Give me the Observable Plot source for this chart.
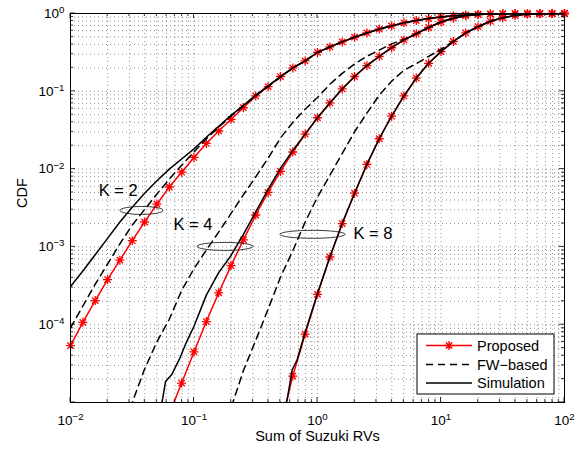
<!DOCTYPE html>
<html><head><meta charset="utf-8">
<script src="https://cdn.jsdelivr.net/npm/d3@7"></script>
<script src="https://cdn.jsdelivr.net/npm/@observablehq/plot@0.6"></script>
<style>body{margin:0;background:#fff}#chart{width:587px;height:449px}</style>
</head><body><div id="chart"></div>
<script>
// ---- axis ticks ----
const xTicks = [0.01, 0.1, 1, 10, 100];
const xTickLabels = ["10|−2", "10|−1", "10|0", "10|1", "10|2"];
const yTicks = [1e-4, 1e-3, 1e-2, 1e-1, 1];
const yTickLabels = ["10|−4", "10|−3", "10|−2", "10|−1", "10|0"];
const xTitle = "Sum of Suzuki RVs";
const yTitle = "CDF";
const legendLabels = ["Proposed", "FW−based", "Simulation"];

// ---- data: log10(x) and log10(CDF) ----
const gridLx = [-2,-1.9,-1.8,-1.7,-1.6,-1.5,-1.4,-1.3,-1.2,-1.1,-1,-0.9,-0.8,-0.7,-0.6,-0.5,-0.4,-0.3,-0.2,-0.1,0,0.1,0.2,0.3,0.4,0.5,0.6,0.7,0.8,0.9,1,1.1,1.2,1.3,1.4,1.5,1.6,1.7,1.8,1.9,2];

const k2Proposed = [-4.27,-3.97,-3.69,-3.42,-3.17,-2.92,-2.68,-2.45,-2.23,-2.04,
  -1.85,-1.67,-1.51,-1.36,-1.21,-1.06,-0.94,-0.81,-0.70,-0.61,
  -0.50,-0.43,-0.365,-0.305,-0.25,-0.20,-0.16,-0.12,-0.09,-0.065,
  -0.045,-0.03,-0.019,-0.012,-0.007,-0.004,-0.002,-0.001,-0.0005,0,0];
const k4Proposed = [null,null,null,null,null,null,null,null,
  -5.15,-4.75,-4.35,-3.96,-3.59,-3.24,-2.91,-2.59,-2.30,-2.03,-1.78,-1.55,
  -1.34,-1.15,-0.97,-0.81,-0.67,-0.55,-0.44,-0.34,-0.26,-0.18,
  -0.11,-0.06,-0.028,-0.012,-0.005,-0.002,-0.0008,0,0,0,0];
const k8Proposed = [null,null,null,null,null,null,null,null,null,null,null,null,null,null,null,null,null,
  -5.3,-4.66,-4.12,
  -3.61,-3.13,-2.70,-2.31,-1.94,-1.61,-1.32,-1.06,-0.83,-0.64,
  -0.49,-0.36,-0.25,-0.17,-0.10,-0.055,-0.026,-0.011,-0.004,-0.001,0];

// Simulation / FW-based: points where they leave the Proposed curve (afterwards they coincide)
const k2SimLx = [-2,-1.9,-1.8,-1.7,-1.6,-1.5,-1.4,-1.3,-1.2,-1.1,-1,-0.9,-0.8,-0.7,-0.6,-0.5,-0.4,-0.3];
const k2SimLy = [-3.51,-3.31,-3.10,-2.89,-2.68,-2.49,-2.31,-2.15,-2.00,-1.87,-1.74,-1.59,-1.45,-1.31,-1.18,-1.05,-0.93,-0.81];
const k2FwLx = [-2,-1.9,-1.8,-1.7,-1.6,-1.5,-1.4,-1.3,-1.2,-1.1,-1,-0.9,-0.8,-0.7,-0.6,-0.5,-0.4,-0.3];
const k2FwLy = [-4.04,-3.76,-3.48,-3.22,-2.96,-2.72,-2.52,-2.32,-2.13,-1.95,-1.78,-1.61,-1.46,-1.32,-1.19,-1.06,-0.94,-0.82];
const k4SimLx = [-1.27,-1.23,-1.18,-1.12,-1.06,-1,-0.9,-0.8,-0.7,-0.6,-0.5,-0.4,-0.3,-0.2,-0.1];
const k4SimLy = [-5.1,-4.73,-4.64,-4.45,-4.22,-4.02,-3.62,-3.33,-3.11,-2.84,-2.55,-2.26,-1.99,-1.76,-1.55];
const k4FwLx = [-1.55,-1.5,-1.4,-1.3,-1.2,-1.1,-1,-0.9,-0.8,-0.7,-0.6,-0.5,-0.4,-0.3,-0.2,-0.1,0,0.1,0.2,0.3,0.4,0.5,0.6,0.7];
const k4FwLy = [-5.22,-5.0,-4.57,-4.22,-3.93,-3.56,-3.28,-3.04,-2.81,-2.57,-2.33,-2.10,-1.86,-1.60,-1.40,-1.23,-1.08,-0.91,-0.77,-0.65,-0.55,-0.47,-0.39,-0.335];
const k8SimLx = [-0.27,-0.245,-0.205,-0.165,-0.1,0];
const k8SimLy = [-5.1,-4.96,-4.58,-4.45,-4.1,-3.6];
const k8FwLx = [-0.72,-0.7,-0.6,-0.5,-0.4,-0.3,-0.2,-0.1,0,0.1,0.2,0.3,0.4,0.5,0.6,0.7,0.8,0.9,1,1.1];
const k8FwLy = [-5.2,-5.07,-4.59,-4.20,-3.80,-3.39,-3.05,-2.68,-2.36,-2.08,-1.80,-1.52,-1.28,-1.05,-0.87,-0.73,-0.645,-0.55,-0.46,-0.36];

// annotations
const annoText = ["K = 2", "K = 4", "K = 8"];
const annoTextX = [0.0169, 0.0682, 1.955];
const annoTextY = [0.0052, 0.0019, 0.00147];
const ellX0 = [0.0254, 0.1067, 0.502];
const ellX1 = [0.0566, 0.303, 1.69];
const ellY = [0.0029, 0.001, 0.00143];

// ---- build tables ----
function pts(name, lx, ly) {
  const out = [];
  lx.forEach((v, i) => { if (ly[i] != null) out.push({s: name, x: 10 ** v, y: 10 ** ly[i], lx: v}); });
  return out;
}
function withTail(name, lx, ly, propLy) {
  const head = pts(name, lx, ly);
  const last = lx[lx.length - 1];
  return head.concat(pts(name, gridLx, propLy).filter(d => d.lx > last + 1e-9));
}
const proposed = [...pts("p2", gridLx, k2Proposed), ...pts("p4", gridLx, k4Proposed), ...pts("p8", gridLx, k8Proposed)];
const fw = [...withTail("f2", k2FwLx, k2FwLy, k2Proposed), ...withTail("f4", k4FwLx, k4FwLy, k4Proposed), ...withTail("f8", k8FwLx, k8FwLy, k8Proposed)];
const sim = [...withTail("s2", k2SimLx, k2SimLy, k2Proposed), ...withTail("s4", k4SimLx, k4SimLy, k4Proposed), ...withTail("s8", k8SimLx, k8SimLy, k8Proposed)];
const markers = proposed.filter(d => d.y >= 0.99999e-5);
const annos = annoText.map((t, i) => ({t, x: annoTextX[i], y: annoTextY[i], x0: ellX0[i], x1: ellX1[i], ye: ellY[i]}));

const star8 = {
  draw(ctx, size) {
    const r = Math.sqrt(size / Math.PI), d = r * Math.SQRT1_2;
    ctx.moveTo(-r, 0); ctx.lineTo(r, 0);
    ctx.moveTo(0, -r); ctx.lineTo(0, r);
    ctx.moveTo(-d, -d); ctx.lineTo(d, d);
    ctx.moveTo(-d, d); ctx.lineTo(d, -d);
  }
};

const xDomain = [0.01, 100], yDomain = [1e-5, 1];
const xMinor = d3.scaleLog().domain(xDomain).ticks();
const yMinor = d3.scaleLog().domain(yDomain).ticks();
const isMajor = t => Math.abs(Math.log10(t) - Math.round(Math.log10(t))) < 1e-9;
const FONT = "'Liberation Sans', Arial, Helvetica, sans-serif";

function frameTicks(index, scales, values, dim) {
  const g = d3.create("svg:g").attr("stroke", "black").attr("stroke-width", 0.8);
  const L = dim.marginLeft, R = dim.width - dim.marginRight, T = dim.marginTop, B = dim.height - dim.marginBottom;
  for (const t of xMinor) {
    const p = scales.x(t), len = isMajor(t) ? 5 : 3;
    g.append("line").attr("x1", p).attr("x2", p).attr("y1", B).attr("y2", B - len);
    g.append("line").attr("x1", p).attr("x2", p).attr("y1", T).attr("y2", T + len);
  }
  for (const t of yMinor) {
    const p = scales.y(t), len = isMajor(t) ? 5 : 3;
    g.append("line").attr("y1", p).attr("y2", p).attr("x1", L).attr("x2", L + len);
    g.append("line").attr("y1", p).attr("y2", p).attr("x1", R).attr("x2", R - len);
  }
  return g.node();
}

function ellipses(index, scales, values, dim) {
  const g = d3.create("svg:g").attr("fill", "none").attr("stroke", "#222").attr("stroke-width", 0.9);
  for (const a of annos) {
    const a0 = scales.x(a.x0), a1 = scales.x(a.x1);
    g.append("ellipse").attr("cx", (a0 + a1) / 2).attr("cy", scales.y(a.ye)).attr("rx", (a1 - a0) / 2).attr("ry", 4);
  }
  return g.node();
}

function legend(index, scales, values, dim) {
  const R = dim.width - dim.marginRight - 10, B = dim.height - dim.marginBottom - 8;
  const w = 137, h = 60, L = R - w, T = B - h;
  const g = d3.create("svg:g").attr("font-family", FONT).attr("font-size", 14.5).attr("text-anchor", "start");
  g.append("rect").attr("x", L).attr("y", T).attr("width", w).attr("height", h).attr("fill", "white").attr("stroke", "black").attr("stroke-width", 1);
  const rows = [T + 11.5, T + 30.5, T + 49];
  const styles = [{stroke: "red", dash: null}, {stroke: "black", dash: "7,5"}, {stroke: "black", dash: null}];
  rows.forEach((y, i) => {
    const ln = g.append("line").attr("x1", L + 9).attr("x2", L + 55).attr("y1", y).attr("y2", y)
      .attr("stroke", styles[i].stroke).attr("stroke-width", 1.5);
    if (styles[i].dash) ln.attr("stroke-dasharray", styles[i].dash);
    if (i === 0) g.append("path").attr("d", d3.symbol(star8, Math.PI * 4.5 * 4.5)()).attr("transform", `translate(${L + 32},${y})`)
      .attr("fill", "none").attr("stroke", "red").attr("stroke-width", 1.3);
    g.append("text").attr("x", L + 60).attr("y", y).attr("dy", "0.36em").attr("fill", "black").attr("text-anchor", "start").text(legendLabels[i]);
  });
  return g.node();
}

const gridStyle = {stroke: "#000", strokeOpacity: 0.55, strokeWidth: 0.8, strokeDasharray: "1,3"};

const chart = Plot.plot({
  width: 587, height: 449,
  marginLeft: 70, marginRight: 23, marginTop: 13, marginBottom: 47,
  x: {type: "log", domain: xDomain},
  y: {type: "log", domain: yDomain},
  style: {fontFamily: FONT, fontSize: "13px", background: "white", color: "black"},
  marks: [
    Plot.ruleX(xMinor, gridStyle),
    Plot.ruleY(yMinor, gridStyle),
    Plot.line(proposed, {x: "x", y: "y", z: "s", stroke: "red", strokeWidth: 1.5, clip: true}),
    Plot.dot(markers, {x: "x", y: "y", symbol: star8, r: 4.5, stroke: "red", fill: "none", strokeWidth: 1.3}),
    Plot.line(fw, {x: "x", y: "y", z: "s", stroke: "black", strokeWidth: 1.5, strokeDasharray: "7,5", clip: true}),
    Plot.line(sim, {x: "x", y: "y", z: "s", stroke: "black", strokeWidth: 1.5, clip: true}),
    ellipses,
    Plot.text(annos, {x: "x", y: "y", text: "t", textAnchor: "start", fontSize: 16.5, fill: "black"}),
    Plot.frame({stroke: "black", strokeWidth: 1}),
    frameTicks,
    Plot.axisX({ticks: xTicks, tickSize: 0, tickPadding: 13, fontSize: 13.5, label: null, tickFormat: d => xTickLabels[xTicks.findIndex(t => Math.abs(t - d) < 1e-12)]}),
    Plot.axisY({ticks: yTicks, tickSize: 0, tickPadding: 6, fontSize: 13.5, label: null, tickFormat: d => yTickLabels[yTicks.findIndex(t => Math.abs(t / d - 1) < 1e-9)]}),
    Plot.text([xTitle], {frameAnchor: "bottom", dy: 38, text: d => d, fontSize: 14.5, fill: "black"}),
    Plot.text([yTitle], {frameAnchor: "left", dx: -48, rotate: -90, text: d => d, fontSize: 14.5, fill: "black"}),
    legend
  ]
});

// superscript exponents in tick labels
chart.querySelectorAll('g[aria-label="x-axis tick label"] text, g[aria-label="y-axis tick label"] text').forEach(t => {
  const parts = t.textContent.split("|");
  if (parts.length < 2) return;
  t.textContent = parts[0];
  const ts = document.createElementNS("http://www.w3.org/2000/svg", "tspan");
  ts.setAttribute("dy", "-0.5em");
  ts.setAttribute("font-size", "0.72em");
  ts.textContent = parts[1];
  t.appendChild(ts);
});
document.getElementById("chart").appendChild(chart);
</script>
</body></html>
